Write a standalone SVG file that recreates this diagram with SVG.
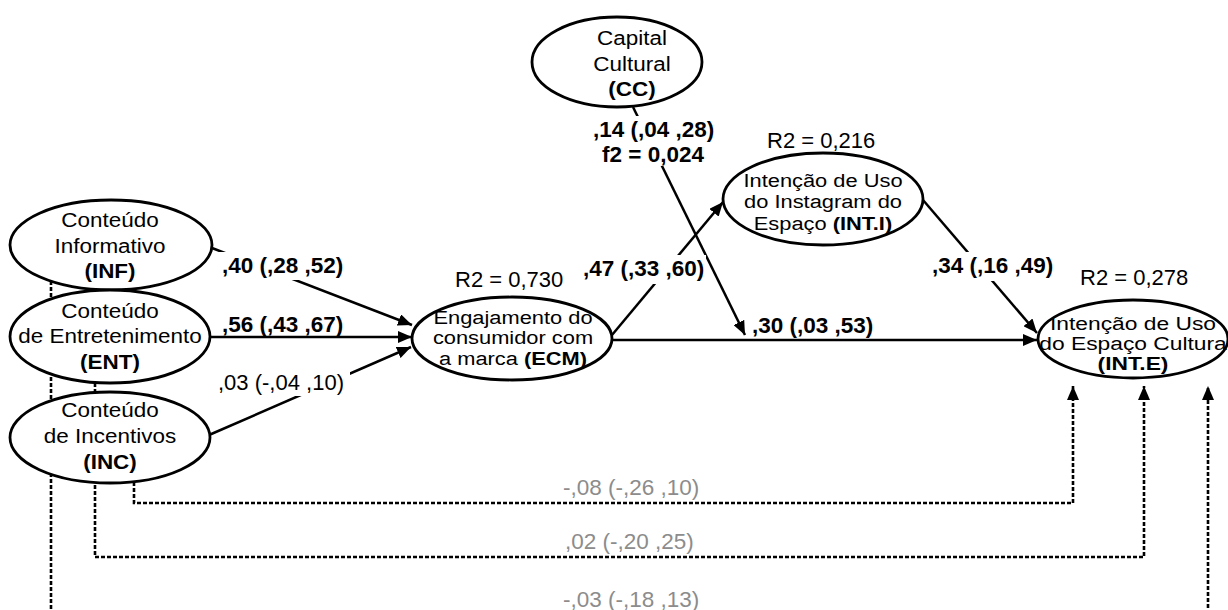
<svg xmlns="http://www.w3.org/2000/svg" width="1228" height="610" viewBox="0 0 1228 610">
<defs>
<style>
.e{fill:#fff;stroke:#000;stroke-width:2.8}
.c{fill:none;stroke:#000;stroke-width:2.5}
.d{fill:none;stroke:#000;stroke-width:2.6;stroke-dasharray:4 2}
.t{font-family:"Liberation Sans",Arial,sans-serif;font-size:21px;fill:#000;text-anchor:middle}
.s{font-family:"Liberation Sans",Arial,sans-serif;font-size:19px;fill:#000;text-anchor:middle}
.bd{font-weight:bold}
.l{font-family:"Liberation Sans",Arial,sans-serif;font-size:22.5px;font-weight:bold;fill:#000}
.r{font-family:"Liberation Sans",Arial,sans-serif;font-size:22px;fill:#000}
.g{font-family:"Liberation Sans",Arial,sans-serif;font-size:22.5px;fill:#8c8c8c}
.bg{fill:#fff}
</style>
<marker id="ah" viewBox="0 0 14 12" refX="14" refY="6" markerWidth="14" markerHeight="12" markerUnits="userSpaceOnUse" orient="auto">
<path d="M0,0 L14,6 L0,12 z" fill="#000"/>
</marker>
</defs>
<rect width="1228" height="610" fill="#fff"/>
<g id="connectors">
<path class="d" d="M134,482 V503 H1073 V386" marker-end="url(#ah)"/>
<path class="d" d="M95,383 V557 H1144 V386" marker-end="url(#ah)"/>
<path class="d" d="M51,281 V622 H1208 V386" marker-end="url(#ah)"/>
<line class="c" x1="212" y1="248" x2="412" y2="325" marker-end="url(#ah)"/>
<line class="c" x1="211" y1="337" x2="412" y2="337" marker-end="url(#ah)"/>
<line class="c" x1="209" y1="435" x2="411" y2="347" marker-end="url(#ah)"/>
<line class="c" x1="612" y1="335" x2="723" y2="202" marker-end="url(#ah)"/>
<line class="c" x1="612" y1="340" x2="1037" y2="340" marker-end="url(#ah)"/>
<line class="c" x1="633" y1="107" x2="745" y2="335" marker-end="url(#ah)"/>
<line class="c" x1="923" y1="200" x2="1037" y2="333" marker-end="url(#ah)"/>
<rect class="bg" x="219" y="252" width="130" height="28"/>
<text class="l" x="222" y="273">,40 (,28 ,52)</text>
<text class="l" x="222" y="332">,56 (,43 ,67)</text>
<rect class="bg" x="216" y="368" width="134" height="28"/>
<text class="r" x="218" y="390">,03 (-,04 ,10)</text>
<rect class="bg" x="580" y="255" width="126" height="29"/>
<text class="l" x="583" y="276">,47 (,33 ,60)</text>
<rect class="bg" x="590" y="116" width="126" height="50"/>
<text class="l" x="593" y="137">,14 (,04 ,28)</text>
<text class="l" x="602" y="162">f2 = 0,024</text>
<text class="l" x="752" y="333">,30 (,03 ,53)</text>
<rect class="bg" x="929" y="252" width="126" height="29"/>
<text class="l" x="932" y="273">,34 (,16 ,49)</text>
<text class="g" x="563" y="495">-,08 (-,26 ,10)</text>
<text class="g" x="565" y="549">,02 (-,20 ,25)</text>
<text class="g" x="563" y="607">-,03 (-,18 ,13)</text>
</g>
<g id="INF">
<ellipse class="e" cx="111" cy="245" rx="101" ry="45"/>
<g transform="translate(110 0) scale(1.07 1)">
<text class="t" x="0" y="227">Conteúdo</text>
<text class="t" x="0" y="253">Informativo</text>
<text class="t bd" x="0" y="278">(INF)</text>
</g>
</g>
<g id="ENT">
<ellipse class="e" cx="110" cy="336.5" rx="100" ry="46.5"/>
<g transform="translate(110 0) scale(1.07 1)">
<text class="t" x="0" y="318">Conteúdo</text>
<text class="t" x="0" y="343">de Entretenimento</text>
<text class="t bd" x="0" y="369">(ENT)</text>
</g>
</g>
<g id="INC">
<ellipse class="e" cx="110" cy="437.5" rx="100" ry="45.5"/>
<g transform="translate(110 0) scale(1.07 1)">
<text class="t" x="0" y="417">Conteúdo</text>
<text class="t" x="0" y="443">de Incentivos</text>
<text class="t bd" x="0" y="469">(INC)</text>
</g>
</g>
<g id="CC">
<ellipse class="e" cx="617" cy="62" rx="85" ry="45"/>
<g transform="translate(632 0) scale(1.07 1)">
<text class="t" x="0" y="45">Capital</text>
<text class="t" x="0" y="71">Cultural</text>
<text class="t bd" x="0" y="96">(CC)</text>
</g>
</g>
<g id="ECM">
<text class="r" x="455" y="287">R2 = 0,730</text>
<ellipse class="e" cx="512" cy="338.5" rx="100" ry="41.5"/>
<g transform="translate(513 0) scale(1.15 1)">
<text class="s" x="0" y="324">Engajamento do</text>
<text class="s" x="0" y="344">consumidor com</text>
<text class="s" x="0" y="365">a marca <tspan class="bd">(ECM)</tspan></text>
</g>
</g>
<g id="INTI">
<text class="r" x="767" y="148">R2 = 0,216</text>
<ellipse class="e" cx="823" cy="199" rx="100" ry="46"/>
<g transform="translate(823 0) scale(1.15 1)">
<text class="s" x="0" y="187">Intenção de Uso</text>
<text class="s" x="0" y="208">do Instagram do</text>
<text class="s" x="0" y="230">Espaço <tspan class="bd">(INT.I)</tspan></text>
</g>
</g>
<g id="INTE">
<text class="r" x="1080" y="285">R2 = 0,278</text>
<ellipse class="e" cx="1133" cy="339" rx="95" ry="39"/>
<g transform="translate(1133 0) scale(1.2 1)">
<text class="s" x="0" y="330">Intenção de Uso</text>
<text class="s" x="0" y="350">do Espaço Cultura</text>
<text class="s bd" x="0" y="370">(INT.E)</text>
</g>
</g>
</svg>
